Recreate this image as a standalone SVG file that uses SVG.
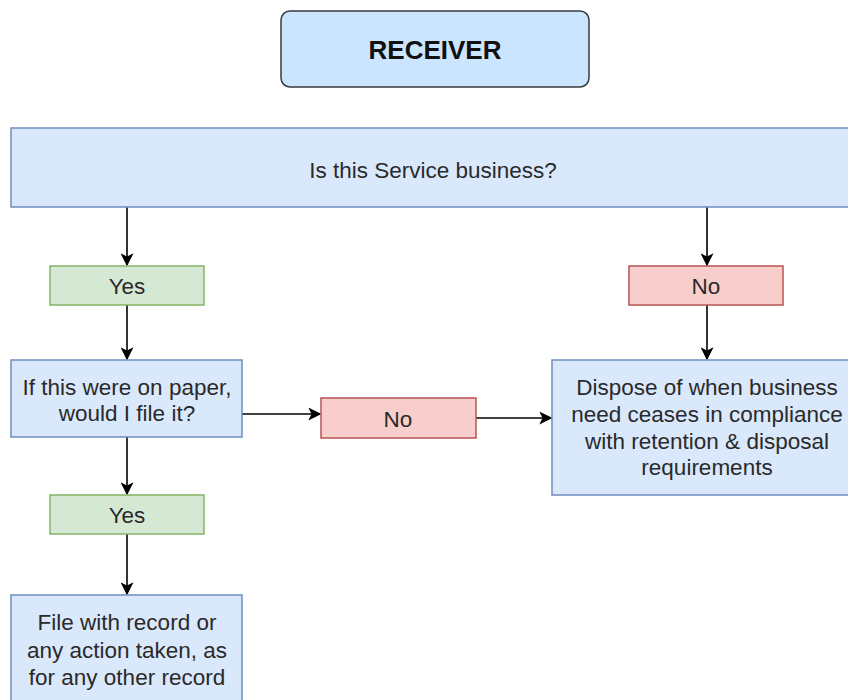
<svg xmlns="http://www.w3.org/2000/svg" width="848" height="700" viewBox="0 0 848 700">
<defs>
<marker id="arr" viewBox="0 0 10 10" refX="9" refY="5" markerWidth="13" markerHeight="13" markerUnits="userSpaceOnUse" orient="auto">
<path d="M0,0 L10,5 L0,10 L2.5,5 Z" fill="#000"/>
</marker>
<style>
.blue{fill:#dae8fc;stroke:#6c8ebf;stroke-width:1.5}
.green{fill:#d5e8d4;stroke:#82b366;stroke-width:1.5}
.red{fill:#f8cecc;stroke:#b85450;stroke-width:1.5}
.hdr{fill:#cce5ff;stroke:#36393d;stroke-width:1.5}
text{font-family:"Liberation Sans",Arial,sans-serif;font-size:22.5px;fill:#2a2a2a;text-anchor:middle;dominant-baseline:central}
.b{font-weight:bold;font-size:26px;fill:#111}
.c{fill:none;stroke:#000;stroke-width:1.6;marker-end:url(#arr)}
</style>
</defs>
<rect width="848" height="700" fill="#fff"/>
<g id="connectors">
<path class="c" d="M127,207 L127,265"/>
<path class="c" d="M707,207 L707,265"/>
<path class="c" d="M127,305 L127,359"/>
<path class="c" d="M707,305 L707,359"/>
<path class="c" d="M242,414 L320,414"/>
<path class="c" d="M476,418 L551,418"/>
<path class="c" d="M127,437 L127,494"/>
<path class="c" d="M127,534 L127,594"/>
</g>
<g id="receiver">
<rect class="hdr" x="281" y="11" width="308" height="76" rx="9"/>
<text class="b" x="435" y="50">RECEIVER</text>
</g>
<g id="service">
<rect class="blue" x="11" y="128" width="850" height="79"/>
<text x="433" y="170">Is this Service business?</text>
</g>
<g id="yes1">
<rect class="green" x="50" y="266" width="154" height="39"/>
<text x="127" y="286">Yes</text>
</g>
<g id="no1">
<rect class="red" x="629" y="266" width="154" height="39"/>
<text x="706" y="286">No</text>
</g>
<g id="paper">
<rect class="blue" x="11" y="360" width="231" height="77"/>
<text x="127" y="387">If this were on paper,</text>
<text x="127" y="413">would I file it?</text>
</g>
<g id="no2">
<rect class="red" x="321" y="398" width="155" height="40"/>
<text x="398" y="419">No</text>
</g>
<g id="dispose">
<rect class="blue" x="552" y="360" width="310" height="135"/>
<text x="707" y="387">Dispose of when business</text>
<text x="707" y="414">need ceases in compliance</text>
<text x="707" y="441">with retention &amp; disposal</text>
<text x="707" y="467">requirements</text>
</g>
<g id="yes2">
<rect class="green" x="50" y="495" width="154" height="39"/>
<text x="127" y="515">Yes</text>
</g>
<g id="file">
<rect class="blue" x="11" y="595" width="231" height="120"/>
<text x="127" y="622">File with record or</text>
<text x="127" y="650">any action taken, as</text>
<text x="127" y="677">for any other record</text>
</g>
</svg>
